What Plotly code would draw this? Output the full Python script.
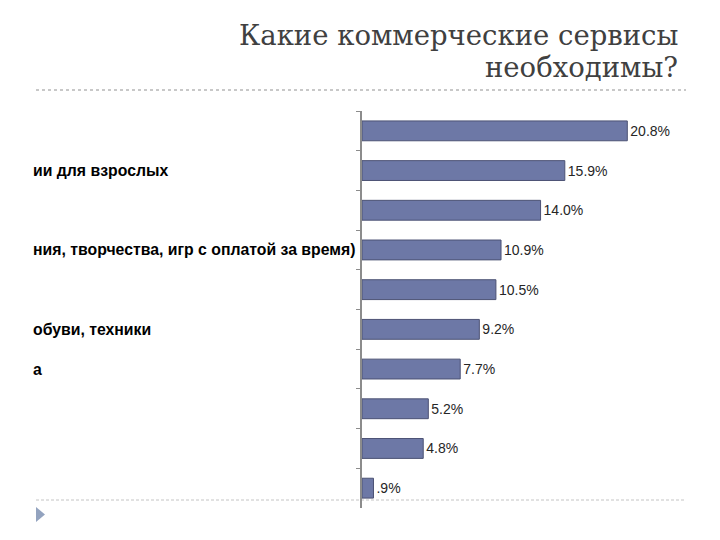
import plotly.graph_objects as go

# ---- data ----
categories = ["c1", "c2", "c3", "c4", "c5", "c6", "c7", "c8", "c9", "c10"]
values = [20.8, 15.9, 14.0, 10.9, 10.5, 9.2, 7.7, 5.2, 4.8, 0.9]
value_labels = ["20.8%", "15.9%", "14.0%", "10.9%", "10.5%", "9.2%", "7.7%", "5.2%", "4.8%", ".9%"]
# visible (clipped) fragments of the category names
category_labels = ["", "ии для взрослых", "", "ния, творчества, игр с оплатой за время)", "",
                   "обуви, техники", "а", "", "", ""]
title_lines = ["Какие коммерческие сервисы", "необходимы?"]

W, H = 720, 540
L, R, T, B = 362, 700, 111, 508   # plot area in pixels
X_MAX = 26.5

def px(x):
    return (x - L) / (R - L)

def py(y):
    return (B - y) / (B - T)

fig = go.Figure()
fig.add_trace(go.Bar(
    y=categories, x=values, orientation="h",
    marker=dict(color="#6D78A6", line=dict(color="#4C5274", width=1)),
    text=value_labels, textposition="outside", cliponaxis=False,
    textfont=dict(family="Liberation Sans, Arial", size=14, color="#262626"),
    width=0.5,
))

annotations = []
for cat, lab in zip(categories, category_labels):
    if lab:
        annotations.append(dict(
            x=px(31), xref="paper", y=cat, yref="y", text="<b>" + lab + "</b>", showarrow=False,
            xanchor="left", yanchor="middle",
            font=dict(family="Liberation Sans, Arial", size=15.8, color="#000000"),
        ))
for i, line in enumerate(title_lines):
    annotations.append(dict(
        x=px(680), xref="paper", y=py(17 + 32 * i), yref="paper", text=line, showarrow=False,
        xanchor="right", yanchor="top", align="right",
        font=dict(family="DejaVu Serif, serif", size=27.5, color="#404040"),
    ))

shapes = [
    dict(type="line", xref="paper", yref="paper", x0=px(36), x1=px(686), y0=py(90), y1=py(90),
         line=dict(color="#C8C8C8", width=2, dash="dot"), layer="below"),
    dict(type="line", xref="paper", yref="paper", x0=px(36), x1=px(685), y0=py(500), y1=py(500),
         line=dict(color="#C4C4C4", width=1, dash="3px,2px"), layer="below"),
    dict(type="path", xref="paper", yref="paper",
         path=f"M {px(36)} {py(507)} L {px(45)} {py(514.5)} L {px(36)} {py(522)} Z",
         fillcolor="#93A3BF", line=dict(width=0)),
]

fig.update_layout(
    width=W, height=H,
    margin=dict(l=L, r=W - R, t=T, b=H - B, pad=0),
    paper_bgcolor="white", plot_bgcolor="white",
    showlegend=False,
    bargap=0.5,
    xaxis=dict(range=[0, X_MAX], visible=False, fixedrange=True),
    yaxis=dict(type="category", autorange="reversed", showticklabels=False,
               showline=True, linecolor="#8C8C8C", linewidth=1.5,
               ticks="outside", ticklen=4, tickcolor="#8C8C8C", tickson="boundaries",
               showgrid=False, zeroline=False, fixedrange=True),
    annotations=annotations,
    shapes=shapes,
)

fig.write_html("out.html")
